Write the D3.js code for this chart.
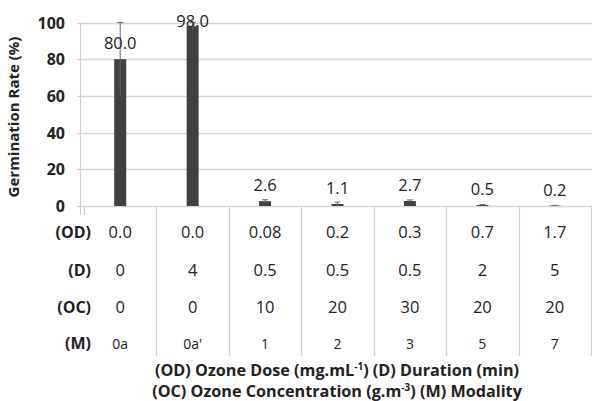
<!DOCTYPE html>
<html><head><meta charset="utf-8">
<script src="https://cdn.jsdelivr.net/npm/d3@7"></script>
<style>
html,body{margin:0;padding:0;background:#fff;}
svg{display:block;font-family:"Open Sans",Lato,sans-serif;}
</style></head>
<body><svg id="c" width="592" height="401"></svg>
<script>
const modalities = ["0a","0a'","1","2","3","5","7"];
const germination = [80.0, 98.0, 2.6, 1.1, 2.7, 0.5, 0.2];
const errors = [20, 2, 0.8, 1.0, 0.6, 0.3, 0.1];
const ozoneDose = ["0.0","0.0","0.08","0.2","0.3","0.7","1.7"];
const duration = ["0","4","0.5","0.5","0.5","2","5"];
const ozoneConc = ["0","0","10","20","30","20","20"];
const yTicks = [0,20,40,60,80,100];
const rowLabels = ["(OD)","(D)","(OC)","(M)"];

const svg = d3.select("#c");
const x = d3.scaleBand().domain(d3.range(modalities.length)).range([85,592]).padding(0);
const y = d3.scaleLinear().domain([0,100]).range([206,22.5]);
const txt = "#222";

// gridlines
svg.append("g").selectAll("line").data(yTicks).join("line")
  .attr("x1",77).attr("x2",592).attr("y1",d=>Math.round(y(d))+0.5).attr("y2",d=>Math.round(y(d))+0.5)
  .attr("stroke","#d4d4d4").attr("stroke-width",1.3);
// y axis line
svg.append("line").attr("x1",80.5).attr("x2",80.5).attr("y1",y(100)).attr("y2",215).attr("stroke","#cfcfcf");

// y tick labels
svg.append("g").selectAll("text").data(yTicks).join("text")
  .attr("x",65).attr("y",d=>y(d)+6).attr("text-anchor","end")
  .attr("font-size",16).attr("font-weight","bold").attr("fill",txt).text(d=>d);

// y title
svg.append("text").attr("transform","translate(19,117) rotate(-90)")
  .attr("text-anchor","middle").attr("font-size",15).attr("font-weight","bold").attr("fill",txt)
  .text("Germination Rate (%)");

// category dividers
const idx = d3.range(modalities.length+1);
svg.append("g").selectAll("line").data(idx).join("line")
  .attr("x1",i=>Math.round(i<modalities.length? x(i): 592)-0.5)
  .attr("x2",i=>Math.round(i<modalities.length? x(i): 592)-0.5)
  .attr("y1",206).attr("y2",i=>i===0?215:356)
  .attr("stroke","#cfcfcf").attr("stroke-width",1.2);

// bars
const bw = 12;
const cx = i => x(i)+x.bandwidth()/2 - 1;
svg.append("g").selectAll("rect").data(germination).join("rect")
  .attr("x",(d,i)=>cx(i)-bw/2).attr("width",bw)
  .attr("y",d=>y(d)).attr("height",d=>y(0)-y(d)).attr("fill","#404040");

// error bars
const eb = svg.append("g").attr("stroke","#6a6a6a").attr("stroke-width",1);
germination.forEach((d,i)=>{
  const top = y(Math.min(100,d+errors[i])), bot = y(Math.max(0,d-errors[i]));
  eb.append("line").attr("x1",cx(i)).attr("x2",cx(i)).attr("y1",top).attr("y2",bot);
  eb.append("line").attr("x1",cx(i)-3).attr("x2",cx(i)+3).attr("y1",top).attr("y2",top);
});

// data labels
svg.append("g").selectAll("text").data(germination).join("text")
  .attr("x",(d,i)=>cx(i)).attr("y",d=>Math.max(y(d)-10,27)).attr("text-anchor","middle")
  .attr("font-size",16.5).attr("fill",txt).text(d=>d.toFixed(1));

// table
const rows = [ozoneDose, duration, ozoneConc, modalities];
const rowY = [232, 270, 307, 343];
rows.forEach((r,k)=>{
  svg.append("text").attr("x",91).attr("y",rowY[k]+6).attr("text-anchor","end")
    .attr("font-size",16).attr("font-weight","bold").attr("fill",txt).text(rowLabels[k]);
  svg.append("g").selectAll("text").data(r).join("text")
    .attr("x",(d,i)=>cx(i)).attr("y",rowY[k]+6).attr("text-anchor","middle")
    .attr("font-size",k===3?14:16.5).attr("fill",txt).text(d=>d);
});

// caption
const cap1 = svg.append("text").attr("x",337).attr("y",376).attr("text-anchor","middle")
  .attr("font-size",16.2).attr("font-weight","bold").attr("fill",txt);
cap1.append("tspan").text("(OD) Ozone Dose (mg.mL");
cap1.append("tspan").attr("dy",-6).attr("font-size",10).text("-1");
cap1.append("tspan").attr("dy",6).text(") (D) Duration (min)");
const cap2 = svg.append("text").attr("x",337).attr("y",397).attr("text-anchor","middle")
  .attr("font-size",16.2).attr("font-weight","bold").attr("fill",txt);
cap2.append("tspan").text("(OC) Ozone Concentration (g.m");
cap2.append("tspan").attr("dy",-6).attr("font-size",10).text("-3");
cap2.append("tspan").attr("dy",6).text(") (M) Modality");
</script></body></html>
